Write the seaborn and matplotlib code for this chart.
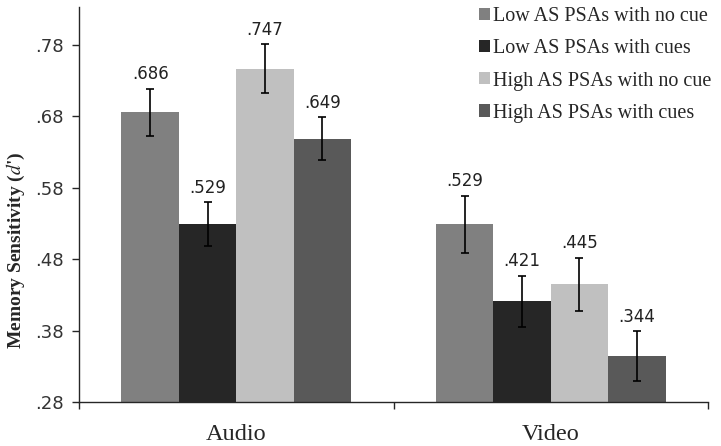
import matplotlib
matplotlib.use("Agg")
import matplotlib.pyplot as plt
import pandas as pd
import seaborn as sns

sns.set_style("ticks")
plt.rcParams["mathtext.fontset"] = "stix"

# data
modality = ["Audio", "Video"]
conditions = [
    "Low AS PSAs with no cue",
    "Low AS PSAs with cues",
    "High AS PSAs with no cue",
    "High AS PSAs with cues",
]
audio_means = [0.686, 0.529, 0.747, 0.649]
video_means = [0.529, 0.421, 0.445, 0.344]
audio_err = [0.033, 0.031, 0.034, 0.030]
video_err = [0.040, 0.036, 0.037, 0.035]
value_labels_audio = [".686", ".529", ".747", ".649"]
value_labels_video = [".529", ".421", ".445", ".344"]
yticks = [0.28, 0.38, 0.48, 0.58, 0.68, 0.78]
ytick_labels = [".28", ".38", ".48", ".58", ".68", ".78"]
colors = ["#808080", "#262626", "#c0c0c0", "#595959"]

rows = []
for i, c in enumerate(conditions):
    rows.append(dict(modality="Audio", cond=c, mean=audio_means[i],
                     err=audio_err[i], lab=value_labels_audio[i]))
    rows.append(dict(modality="Video", cond=c, mean=video_means[i],
                     err=video_err[i], lab=value_labels_video[i]))
df = pd.DataFrame(rows)

fig, ax = plt.subplots(figsize=(7.21, 4.46), dpi=100)
fig.subplots_adjust(left=0.1096, right=0.982, bottom=0.0987, top=0.984)

sns.barplot(data=df, x="modality", y="mean", hue="cond", order=modality,
            hue_order=conditions, palette=colors, width=0.73, gap=0,
            saturation=1, errorbar=None, ax=ax, linewidth=0)

for cont, c in zip(ax.containers, conditions):
    sub = df[df.cond == c].set_index("modality").loc[modality]
    xs = [p.get_x() + p.get_width() / 2 for p in cont.patches]
    ax.errorbar(xs, sub["mean"], yerr=sub["err"], fmt="none", ecolor="black",
                elinewidth=1.2, capsize=3, capthick=1.2, zorder=5)
    for x, m, e, lab in zip(xs, sub["mean"], sub["err"], sub["lab"]):
        ax.annotate(lab, (x, m + e), xytext=(0, 4), textcoords="offset points",
                    ha="center", va="bottom", fontsize=12, color="#222222",
                    family="DejaVu Sans")

ax.set_ylim(0.28, 0.833)
ax.set_xlim(-0.5, 1.5)
ax.set_yticks(yticks)
ax.set_yticklabels(ytick_labels, fontsize=13, color="#333333")
ax.set_xticks([-0.5, 0.5, 1.5])
ax.set_xticklabels([])
ax.tick_params(axis="x", length=5, width=1)
ax.tick_params(axis="y", length=5, width=1, pad=6)
for i, m in enumerate(modality):
    ax.text(i, -0.055, m, transform=ax.get_xaxis_transform(), ha="center",
            va="top", fontsize=17.5, family="Liberation Serif")

ax.set_xlabel("")
ax.set_ylabel("Memory Sensitivity ($\\it{d}$')", family="Liberation Serif",
              fontsize=14, fontweight="bold")
ax.yaxis.set_label_coords(-0.082, 0.385)
sns.despine(ax=ax)
for s in ["left", "bottom"]:
    ax.spines[s].set_linewidth(1)

leg = ax.legend(loc="upper right", bbox_to_anchor=(1.024, 1.03), frameon=False,
                prop={"family": "Liberation Serif", "size": 14.5},
                handlelength=0.55, handleheight=0.55, handletextpad=0.15,
                labelspacing=0.65, borderaxespad=0.2)

fig.savefig("out.png", dpi=100)
